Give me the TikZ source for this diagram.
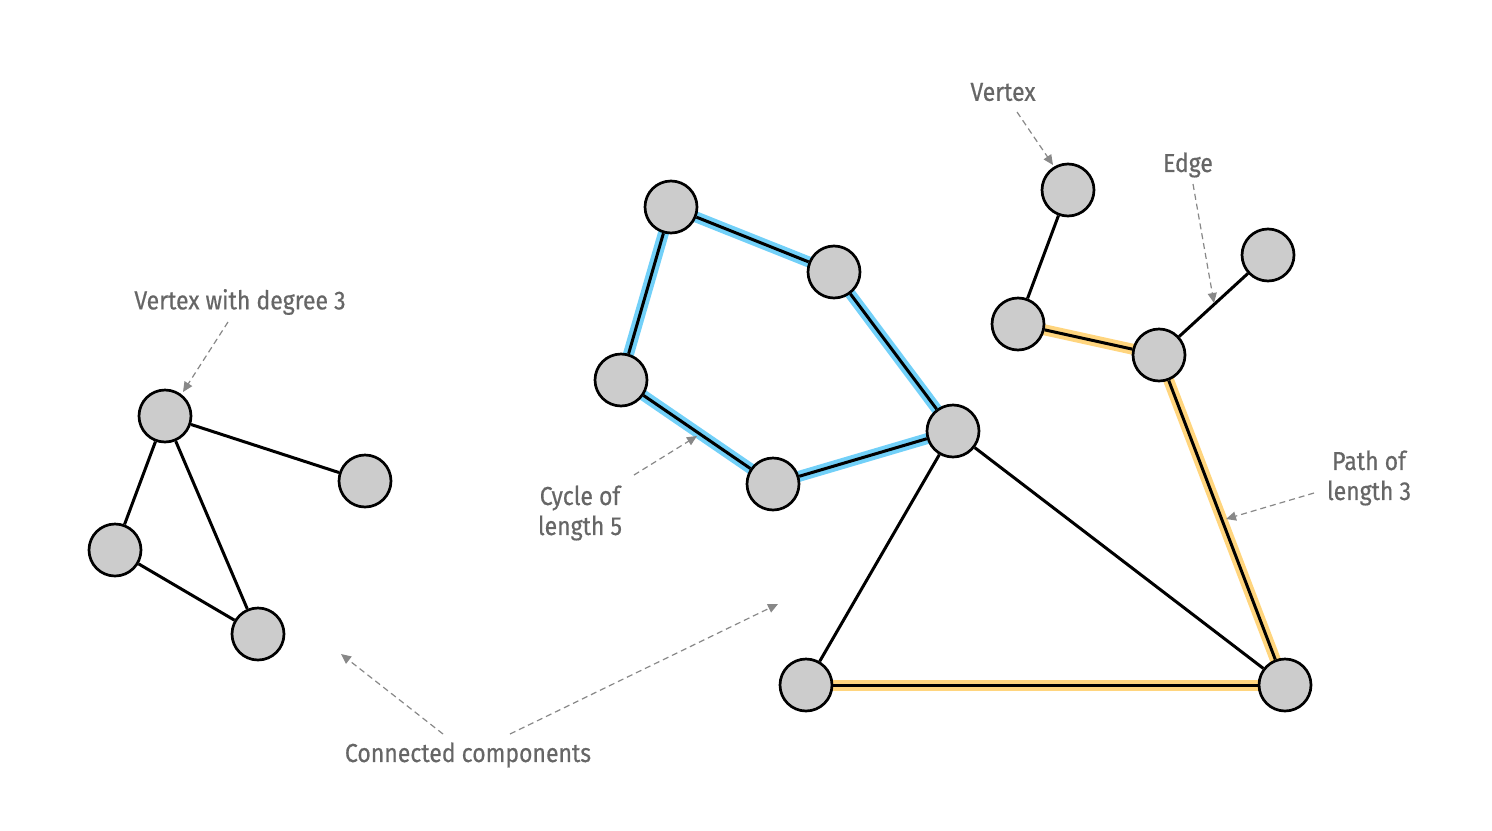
\documentclass[tikz,border=0pt]{standalone}
\usepackage{fontspec}
\setmainfont{Fira Sans}[FakeStretch=0.885,FakeBold=0.5]
\usetikzlibrary{arrows.meta,backgrounds}
\definecolor{nodegray}{HTML}{CCCCCC}
\definecolor{labelgray}{HTML}{666666}
\definecolor{arrowgray}{HTML}{888888}
\definecolor{cycleblue}{HTML}{72D0F8}
\definecolor{pathyellow}{HTML}{FFD57E}
\tikzset{
  vertex/.style={circle,draw=black,fill=nodegray,line width=1.35pt,minimum size=26pt,inner sep=0pt},
  edge/.style={draw=black,line width=1.5pt},
  bluehl/.style={draw=cycleblue,line width=5.5pt},
  yellowhl/.style={draw=pathyellow,line width=5.5pt},
  lbl/.style={text=labelgray,font=\fontsize{13pt}{15pt}\selectfont,align=center,inner sep=0pt},
  note/.style={draw=arrowgray,line width=0.6pt,dash pattern=on 3pt off 2pt,-{Triangle[length=5pt,width=4.5pt]}},
}
\begin{document}
\begin{tikzpicture}[x=0.5pt,y=-0.5pt]
\useasboundingbox (0,0) rectangle (1492,830);
% left component
\node[vertex] (A) at (165,416) {};
\node[vertex] (B) at (365,481) {};
\node[vertex] (C) at (115,550) {};
\node[vertex] (D) at (258,634) {};
% main component
\node[vertex] (P1) at (671,207) {};
\node[vertex] (P2) at (834,272) {};
\node[vertex] (P3) at (621,380) {};
\node[vertex] (P4) at (773,484) {};
\node[vertex] (H) at (953,431) {};
\node[vertex] (L) at (806,685) {};
\node[vertex] (R) at (1285,685) {};
\node[vertex] (V) at (1068,190) {};
\node[vertex] (W) at (1018,324) {};
\node[vertex] (X) at (1159,355) {};
\node[vertex] (Y) at (1268,255) {};
\begin{pgfonlayer}{background}
% highlights
\path[bluehl] (P1.center) -- (P2.center);
\path[bluehl] (P2.center) -- (H.center);
\path[bluehl] (H.center) -- (P4.center);
\path[bluehl] (P4.center) -- (P3.center);
\path[bluehl] (P3.center) -- (P1.center);
\path[yellowhl] (W.center) -- (X.center);
\path[yellowhl] (X.center) -- (R.center);
\path[yellowhl] (R.center) -- (L.center);
% edges
\path[edge] (A) -- (B);
\path[edge] (A) -- (C);
\path[edge] (A) -- (D);
\path[edge] (C) -- (D);
\path[edge] (P1) -- (P2);
\path[edge] (P2) -- (H);
\path[edge] (H) -- (P4);
\path[edge] (P4) -- (P3);
\path[edge] (P3) -- (P1);
\path[edge] (H) -- (L);
\path[edge] (H) -- (R);
\path[edge] (L) -- (R);
\path[edge] (V) -- (W);
\path[edge] (W) -- (X);
\path[edge] (X) -- (Y);
\path[edge] (X) -- (R);
\end{pgfonlayer}
% labels
\node[lbl] (tdeg) at (240,302) {Vertex with degree 3};
\node[lbl] (tcyc) at (580,513) {Cycle of\\length 5};
\node[lbl] (tver) at (1003,92) {Vertex};
\node[lbl] (tedge) at (1188,165) {Edge};
\node[lbl] (tpath) at (1369,478) {Path of\\length 3};
\node[lbl] (tcc) at (468,755) {Connected components};
\coordinate (sdeg) at (228,322);
\coordinate (edeg) at (183,392);
\coordinate (scyc) at (634,475);
\coordinate (ecyc) at (697,436);
\coordinate (sver) at (1017,112);
\coordinate (ever) at (1053,165);
\coordinate (sedge) at (1193,184);
\coordinate (eedge) at (1214,303);
\coordinate (spath) at (1314,493);
\coordinate (epath) at (1226,519);
\coordinate (scc1) at (443,734);
\coordinate (ecc1) at (341,654);
\coordinate (scc2) at (510,734);
\coordinate (ecc2) at (778,604);
\draw[note] (sdeg) -- (edeg);
\draw[note] (scyc) -- (ecyc);
\draw[note] (sver) -- (ever);
\draw[note] (sedge) -- (eedge);
\draw[note] (spath) -- (epath);
\draw[note] (scc1) -- (ecc1);
\draw[note] (scc2) -- (ecc2);
\end{tikzpicture}
\end{document}
